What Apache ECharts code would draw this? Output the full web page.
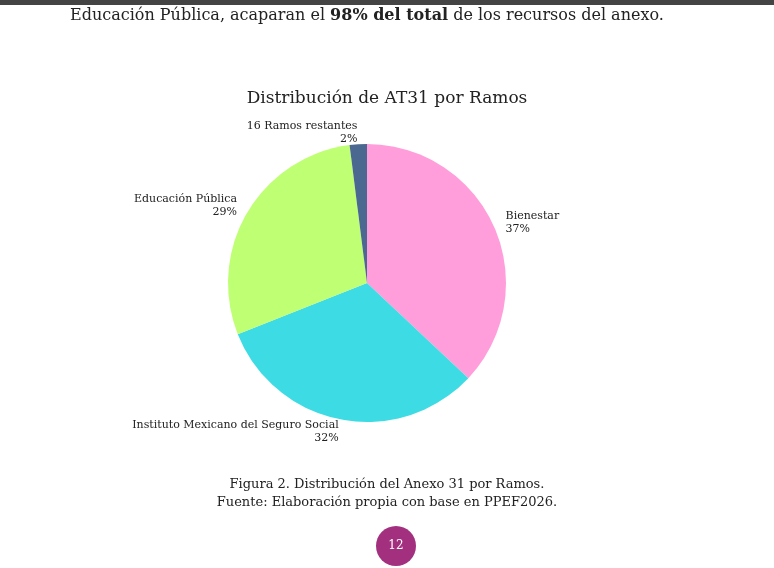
<!DOCTYPE html>
<html><head><meta charset="utf-8">
<script src="https://cdn.jsdelivr.net/npm/echarts@6/dist/echarts.min.js"></script>
<style>html,body{margin:0;padding:0;background:#fff}#c{width:774px;height:568px}</style>
</head><body><div id="c"></div>
<script>
const categories = ['Bienestar','Instituto Mexicano del Seguro Social','Educación Pública','16 Ramos restantes'];
const values = [37, 32, 29, 2];
const colors = ['#FF9EDB','#3DDBE3','#BFFF73','#4B6890'];
const serif = "'DejaVu Serif', 'Liberation Serif', serif";
const chart = echarts.init(document.getElementById('c'));
chart.setOption({
  backgroundColor:'#fff',
  title:{text:'Distribución de AT31 por Ramos',left:'center',top:85,
    textStyle:{fontFamily:serif,fontSize:17,fontWeight:'normal',color:'#222'}},
  graphic:[
    {type:'rect',shape:{x:0,y:0,width:774,height:5},style:{fill:'#444'}},
    {type:'text',left:70,top:8,style:{rich:{a:{fontFamily:serif,fontSize:16,fill:'#222'},b:{fontFamily:serif,fontSize:16,fontWeight:'bold',fill:'#222'}},
      text:'{a|Educación Pública, acaparan el }{b|98% del total}{a| de los recursos del anexo.}'}},
    {type:'text',x:387,y:476,style:{text:'Figura 2. Distribución del Anexo 31 por Ramos.\nFuente: Elaboración propia con base en PPEF2026.',
      align:'center',fontFamily:serif,fontSize:13,lineHeight:18,fill:'#222'}},
    {type:'circle',shape:{cx:396,cy:546,r:20},style:{fill:'#A3307F'}},
    {type:'text',x:396,y:546,style:{text:'12',align:'center',verticalAlign:'middle',fontFamily:serif,fontSize:12,fill:'#fff'}}
  ],
  series:[{
    type:'pie',center:[367,283],radius:139,startAngle:90,clockwise:true,
    data:categories.map((n,i)=>({name:n,value:values[i],itemStyle:{color:colors[i]}})),
    label:{show:true,position:'outside',formatter:p=>p.name+'\n'+Math.round(p.percent)+'%',
      fontFamily:serif,fontSize:11,color:'#222',align:'center',lineHeight:13,distanceToLabelLine:0},
    labelLine:{show:false,length:12,length2:0},
    itemStyle:{borderWidth:0},emphasis:{disabled:true},animation:false
  }]
});
</script></body></html>
